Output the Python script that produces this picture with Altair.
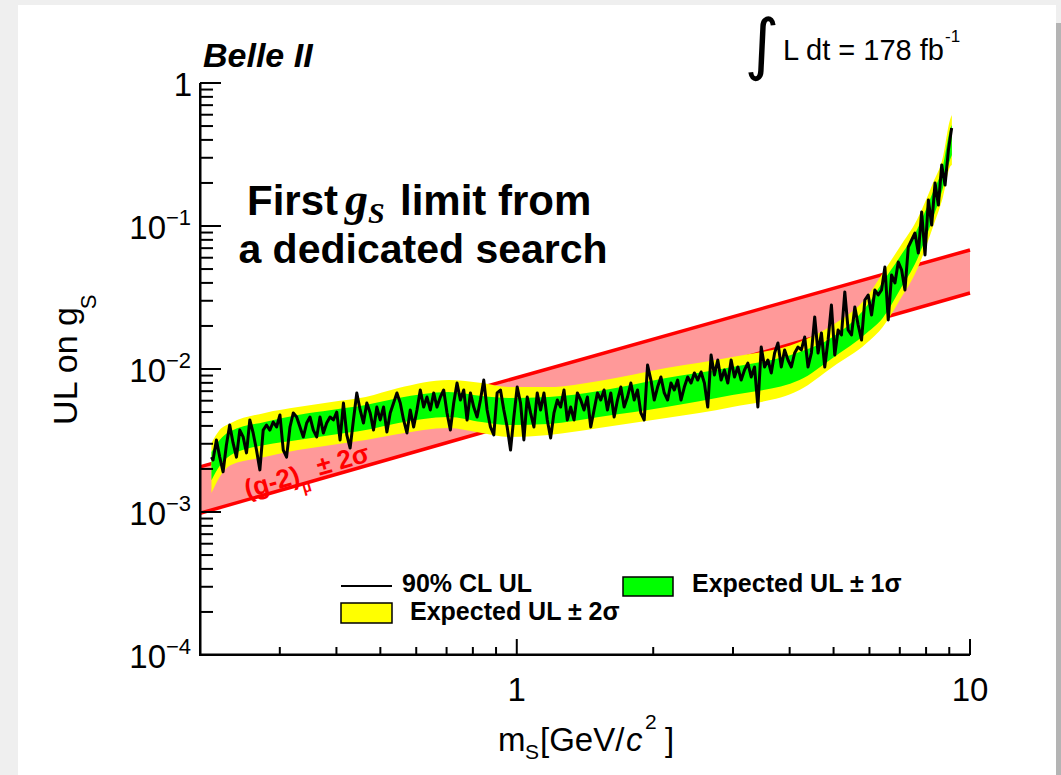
import altair as alt
import pandas as pd

# ---------------------------------------------------------------------------
# Observed 90% CL upper limit on g_S versus scalar mass m_S [GeV/c^2]
# ---------------------------------------------------------------------------
obs_mass = [
    0.2120, 0.2137, 0.2174, 0.2211, 0.2249, 0.2287, 0.2326, 0.2366, 0.2407, 0.2448,
    0.2490, 0.2533, 0.2576, 0.2620, 0.2665, 0.2711, 0.2757, 0.2804, 0.2852, 0.2901,
    0.2951, 0.3002, 0.3053, 0.3105, 0.3159, 0.3213, 0.3268, 0.3324, 0.3381, 0.3439,
    0.3497, 0.3557, 0.3618, 0.3680, 0.3743, 0.3807, 0.3872, 0.3939, 0.4006, 0.4075,
    0.4145, 0.4216, 0.4288, 0.4361, 0.4436, 0.4512, 0.4589, 0.4668, 0.4748, 0.4829,
    0.4912, 0.4996, 0.5082, 0.5169, 0.5257, 0.5347, 0.5439, 0.5532, 0.5627, 0.5723,
    0.5821, 0.5921, 0.6022, 0.6125, 0.6230, 0.6337, 0.6445, 0.6556, 0.6668, 0.6782,
    0.6898, 0.7016, 0.7136, 0.7258, 0.7382, 0.7509, 0.7637, 0.7768, 0.7901, 0.8036,
    0.8174, 0.8314, 0.8456, 0.8601, 0.8748, 0.8898, 0.9050, 0.9205, 0.9363, 0.9523,
    0.9687, 0.9853, 1.0021, 1.0193, 1.0367, 1.0545, 1.0725, 1.0909, 1.1096, 1.1286,
    1.1480, 1.1676, 1.1876, 1.2080, 1.2286, 1.2497, 1.2711, 1.2928, 1.3150, 1.3375,
    1.3605, 1.3838, 1.4074, 1.4315, 1.4561, 1.4810, 1.5063, 1.5321, 1.5583, 1.5850,
    1.6122, 1.6398, 1.6679, 1.6965, 1.7255, 1.7551, 1.7851, 1.8157, 1.8468, 1.8784,
    1.9106, 1.9434, 1.9767, 2.0105, 2.0450, 2.0800, 2.1156, 2.1519, 2.1887, 2.2262,
    2.2644, 2.3032, 2.3426, 2.3828, 2.4236, 2.4651, 2.5073, 2.5503, 2.5940, 2.6384,
    2.6836, 2.7296, 2.7763, 2.8239, 2.8723, 2.9215, 2.9715, 3.0224, 3.0742, 3.1269,
    3.1803, 3.2348, 3.2902, 3.3466, 3.4039, 3.4622, 3.5215, 3.5818, 3.6432, 3.7056,
    3.7690, 3.8336, 3.8992, 3.9660, 4.0340, 4.1031, 4.1734, 4.2449, 4.3176, 4.3915,
    4.4667, 4.5432, 4.6210, 4.7002, 4.7807, 4.8626, 4.9459, 5.0306, 5.1167, 5.2044,
    5.2935, 5.3842, 5.4764, 5.5702, 5.6656, 5.7626, 5.8613, 5.9617, 6.0638, 6.1677,
    6.2732, 6.3806, 6.4899, 6.6011, 6.7141, 6.8291, 6.9461, 7.0651, 7.1861, 7.3092,
    7.4343, 7.5616, 7.6911, 7.8228, 7.9568, 8.0931, 8.2317, 8.3727, 8.5161, 8.6619,
    8.8103, 8.9612, 9.1100,
]
obs_ul = [
    0.00242, 0.00231, 0.00319, 0.00242, 0.00191, 0.00294, 0.00406, 0.00304, 0.00242, 0.00374,
    0.00335, 0.00259, 0.00440, 0.00357, 0.00271, 0.00197, 0.00374, 0.00406, 0.00374, 0.00426,
    0.00393, 0.00477, 0.00271, 0.00242, 0.00393, 0.00493, 0.00462, 0.00393, 0.00335, 0.00419,
    0.00462, 0.00374, 0.00335, 0.00462, 0.00357, 0.00419, 0.00462, 0.00440, 0.00500, 0.00319,
    0.00578, 0.00346, 0.00280, 0.00440, 0.00680, 0.00517, 0.00419, 0.00578, 0.00493, 0.00374,
    0.00542, 0.00440, 0.00542, 0.00363, 0.00493, 0.00578, 0.00680, 0.00578, 0.00440, 0.00357,
    0.00517, 0.00393, 0.00517, 0.00713, 0.00542, 0.00637, 0.00517, 0.00680, 0.00542, 0.00637,
    0.00713, 0.00493, 0.00374, 0.00578, 0.00798, 0.00607, 0.00713, 0.00440, 0.00680, 0.00542,
    0.00462, 0.00607, 0.00837, 0.00517, 0.00393, 0.00346, 0.00680, 0.00713, 0.00517, 0.00393,
    0.00271, 0.00462, 0.00748, 0.00578, 0.00319, 0.00637, 0.00493, 0.00393, 0.00680, 0.00517,
    0.00680, 0.00440, 0.00329, 0.00493, 0.00607, 0.00542, 0.00713, 0.00440, 0.00542, 0.00440,
    0.00680, 0.00607, 0.00517, 0.00637, 0.00393, 0.00517, 0.00680, 0.00607, 0.00713, 0.00517,
    0.00680, 0.00462, 0.00607, 0.00748, 0.00542, 0.00637, 0.00798, 0.00607, 0.00713, 0.00493,
    0.00440, 0.01066, 0.00837, 0.00607, 0.00748, 0.00879, 0.00680, 0.00607, 0.00798, 0.00713,
    0.00837, 0.00607, 0.00748, 0.00879, 0.00798, 0.00938, 0.00837, 0.00953, 0.00798, 0.00542,
    0.01253, 0.00908, 0.01156, 0.00837, 0.00984, 0.00798, 0.01156, 0.00879, 0.01033, 0.00837,
    0.00984, 0.01101, 0.00879, 0.01033, 0.00542, 0.01425, 0.01033, 0.01156, 0.00938, 0.01294,
    0.01520, 0.01033, 0.01358, 0.01156, 0.01033, 0.01294, 0.01425, 0.01358, 0.01674, 0.01033,
    0.01294, 0.02310, 0.01294, 0.01785, 0.01033, 0.01595, 0.02803, 0.01253, 0.01874, 0.01729,
    0.03456, 0.01874, 0.01729, 0.02714, 0.02031, 0.01595, 0.03038, 0.03293, 0.02386, 0.03568,
    0.03293, 0.03568, 0.05168, 0.02202, 0.04544, 0.03995, 0.05602, 0.04925, 0.03568, 0.07131,
    0.07980, 0.08933, 0.06477, 0.1253, 0.06269, 0.1520, 0.1016, 0.1999, 0.1402, 0.2671,
    0.1935, 0.3401, 0.4845,
]

# Expected upper limit bands (+-1 sigma, +-2 sigma)
band_mass = [0.212, 0.221, 0.234, 0.278, 0.329, 0.390, 0.464, 0.548, 0.707, 0.837,
             0.960, 1.177, 1.518, 2.136, 2.990, 4.206, 4.977, 5.917, 6.420, 7.000,
             7.633, 8.284, 8.715, 9.032, 9.120]
exp_2s_hi = [0.00304, 0.00374, 0.00419, 0.00493, 0.00542, 0.00588, 0.00637, 0.00736, 0.00837, 0.00798,
             0.00748, 0.00748, 0.00825, 0.01016, 0.01213, 0.01545, 0.02031, 0.03188, 0.04692, 0.07131,
             0.1101, 0.1999, 0.3038, 0.5511, 0.597]
exp_1s_hi = [0.00263, 0.00319, 0.00369, 0.00426, 0.00477, 0.00517, 0.00560, 0.00627, 0.00691, 0.00648,
             0.00627, 0.00637, 0.00702, 0.00865, 0.01033, 0.01315, 0.01674, 0.02758, 0.04059, 0.0607,
             0.09376, 0.1729, 0.2628, 0.4692, 0.5085]
exp_1s_lo = [0.00167, 0.00210, 0.00250, 0.00294, 0.00319, 0.00346, 0.00374, 0.00419, 0.00462, 0.00426,
             0.00406, 0.00413, 0.00462, 0.00542, 0.00658, 0.00837, 0.01194, 0.01785, 0.02273, 0.03568,
             0.05784, 0.1137, 0.1843, 0.2894, 0.3137]
exp_2s_lo = [0.00136, 0.00176, 0.00213, 0.00242, 0.00271, 0.00294, 0.00319, 0.00351, 0.00387, 0.00357,
             0.00335, 0.00346, 0.00387, 0.00454, 0.00542, 0.00713, 0.01033, 0.01520, 0.01966, 0.03038,
             0.04925, 0.0984, 0.1595, 0.2586, 0.2671]

# (g-2)_mu +-2 sigma preferred region
gm2_mass = [0.2, 10.0]
gm2_lo = [0.00098, 0.034]
gm2_hi = [0.00207, 0.068]

# Axis ticks and labels
x_major = [1.0, 10.0]
x_major_text = ["1", "10"]
x_minor = [0.3, 0.4, 0.5, 0.6, 0.7, 0.8, 0.9, 2, 3, 4, 5, 6, 7, 8, 9]
y_major = [1e-4, 1e-3, 1e-2, 1e-1, 1.0]
y_decades = [1e-4, 1e-3, 1e-2, 1e-1]
y_exponents = ["\u22124", "\u22123", "\u22122", "\u22121"]
y_minor = [k * 10.0 ** e for e in (-4, -3, -2, -1) for k in range(2, 10)]

W, H = 770, 572
SANS = "Liberation Sans"
SERIF = "Liberation Serif"

xs = alt.Scale(type="log", domain=[0.2, 10], nice=False)
ys = alt.Scale(type="log", domain=[1e-4, 1], nice=False)

obs_df = pd.DataFrame({"m": obs_mass, "ul": obs_ul})
band_df = pd.DataFrame({"m": band_mass, "y2hi": exp_2s_hi, "y1hi": exp_1s_hi,
                        "y1lo": exp_1s_lo, "y2lo": exp_2s_lo})
gm2_df = pd.DataFrame({"m": gm2_mass, "lo": gm2_lo, "hi": gm2_hi})
one = pd.DataFrame({"k": [0]})


def X(field):
    return alt.X(field, type="quantitative", scale=xs, axis=None)


def Y(field):
    return alt.Y(field, type="quantitative", scale=ys, axis=None)


def label(txt, x, y, size, weight="normal", style="normal", align="left",
          baseline="alphabetic", font=SANS, color="black", angle=0):
    return alt.Chart(one).mark_text(
        text=txt, fontSize=size, fontWeight=weight, fontStyle=style, align=align,
        baseline=baseline, font=font, color=color, angle=angle
    ).encode(x=alt.value(x), y=alt.value(y))


def data_label(txt, m, g, size, weight="bold", color="#ff0000", angle=344):
    return alt.Chart(pd.DataFrame({"m": [m], "g": [g]})).mark_text(
        text=txt, fontSize=size, fontWeight=weight, font=SANS, color=color, angle=angle,
        align="center", baseline="middle"
    ).encode(x=X("m"), y=Y("g"))


def box(x0, x1, y0, y1, fill, stroke=None, sw=0):
    kw = dict(color=fill)
    if stroke:
        kw.update(stroke=stroke, strokeWidth=sw)
    return alt.Chart(one).mark_rect(**kw).encode(
        x=alt.value(x0), x2=alt.value(x1), y=alt.value(y0), y2=alt.value(y1))


# page background with a soft grey border
page = [
    box(-200, 861, -83, 692, "#efefef"),
    box(-182, 856, -78, 692, "white"),
    box(856, 861, -60, 692, "#b4b4b4"),
]

# (g-2)_mu band
pink = alt.Chart(gm2_df).mark_area(color="#ff9999").encode(x=X("m"), y=Y("lo"), y2="hi")
red_lo = alt.Chart(gm2_df).mark_line(color="#ff0000", strokeWidth=3.5).encode(x=X("m"), y=Y("lo"))
red_hi = alt.Chart(gm2_df).mark_line(color="#ff0000", strokeWidth=3.5).encode(x=X("m"), y=Y("hi"))

# expected bands and observed limit
yellow = alt.Chart(band_df).mark_area(color="#ffff00", interpolate="monotone").encode(
    x=X("m"), y=Y("y2lo"), y2="y2hi")
green = alt.Chart(band_df).mark_area(color="#00ff00", interpolate="monotone").encode(
    x=X("m"), y=Y("y1lo"), y2="y1hi")
observed = alt.Chart(obs_df).mark_line(color="black", strokeWidth=3, clip=True,
                                       strokeJoin="round").encode(x=X("m"), y=Y("ul"))

# tick marks pointing into the frame
tick_y_minor = alt.Chart(pd.DataFrame({"v": y_minor})).mark_rule(color="black", strokeWidth=2).encode(
    y=Y("v"), x=alt.value(0), x2=alt.value(13))
tick_y_major = alt.Chart(pd.DataFrame({"v": y_major})).mark_rule(color="black", strokeWidth=2).encode(
    y=Y("v"), x=alt.value(0), x2=alt.value(21))
tick_x_minor = alt.Chart(pd.DataFrame({"v": x_minor})).mark_rule(color="black", strokeWidth=2).encode(
    x=X("v"), y=alt.value(H), y2=alt.value(H - 8))
tick_x_major = alt.Chart(pd.DataFrame({"v": x_major})).mark_rule(color="black", strokeWidth=2).encode(
    x=X("v"), y=alt.value(H), y2=alt.value(H - 16))
frame_left = box(-1, 1.5, 0, H, "black")
frame_bottom = box(-1, W, H - 1.5, H + 1, "black")

# tick labels
ylab_base = alt.Chart(pd.DataFrame({"v": y_decades})).mark_text(
    text="10", font=SANS, fontSize=33, align="right", baseline="middle", dy=3).encode(
    y=Y("v"), x=alt.value(-34))
ylab_exp = alt.Chart(pd.DataFrame({"v": y_decades, "t": y_exponents})).mark_text(
    font=SANS, fontSize=22, align="left", baseline="middle", dy=-8).encode(
    y=Y("v"), x=alt.value(-34), text="t:N")
ylab_one = alt.Chart(pd.DataFrame({"v": [1.0]})).mark_text(
    text="1", font=SANS, fontSize=33, align="right", baseline="middle", dy=3).encode(
    y=Y("v"), x=alt.value(-8))
xlab = alt.Chart(pd.DataFrame({"v": x_major, "t": x_major_text})).mark_text(
    font=SANS, fontSize=33, align="center", baseline="middle").encode(
    x=X("v"), y=alt.value(608), text="t:N")

# axis titles
titles = [
    label("UL on g", -123, 283, 34, align="center", angle=270),
    label("S", -111, 219, 22, align="center", baseline="middle", angle=270),
    label("m", 298, 668, 33),
    label("S", 325, 676, 21),
    label("[GeV/", 340, 668, 33),
    label("c", 426, 668, 33, style="italic"),
    label("2", 445, 646, 21),
    label("]", 465, 668, 33),
]

# header texts
header = [
    label("Belle II", 3, -16, 34, weight="bold", style="italic"),
    label("\u222b", 562, -16, 67, align="center", font="DejaVu Sans"),
    label("L dt = 178 fb", 583, -23, 29),
    label("-1", 745, -41, 17),
]

# statement inside the frame
statement = [
    label("First", 47, 132, 42, weight="bold"),
    label("g", 145, 132, 46, style="italic", weight="bold", font=SERIF),
    label("S", 168, 140, 30, style="italic", weight="bold", font=SERIF),
    label("limit from", 200, 132, 42, weight="bold"),
    label("a dedicated search", 223, 180, 41, weight="bold", align="center"),
]

# (g-2)_mu band label, placed along the band
gm2_label = [
    data_label("(g-2)", 0.2884, 0.00160, 26),
    data_label("\u03bc", 0.3440, 0.00149, 15),
    data_label("\u00b1 2\u03c3", 0.4136, 0.00229, 26),
]

# legend
legend = [
    alt.Chart(one).mark_rule(color="black", strokeWidth=2).encode(
        x=alt.value(141), x2=alt.value(192), y=alt.value(503)),
    label("90% CL UL", 202, 509, 25, weight="bold"),
    box(141, 192, 520, 540, "#ffff00", "black", 1.5),
    label("Expected UL \u00b1 2\u03c3", 210, 537, 25, weight="bold"),
    box(423, 473, 494, 513, "#00ff00", "black", 1.5),
    label("Expected UL \u00b1 1\u03c3", 492, 509, 25, weight="bold"),
]

layers = (page + [pink, red_lo, red_hi, yellow, green, observed] + gm2_label
          + statement + legend
          + [tick_y_minor, tick_y_major, tick_x_minor, tick_x_major, frame_left, frame_bottom,
             ylab_base, ylab_exp, ylab_one, xlab]
          + titles + header)

chart = alt.layer(*layers).properties(
    width=W, height=H,
    autosize=alt.AutoSizeParams(type="none"),
    padding={"left": 200, "top": 83, "right": 91, "bottom": 120},
    background="white",
).configure_view(stroke="black", strokeWidth=1.5)

chart.save("out.html", embed_options={"renderer": "svg", "actions": False})
